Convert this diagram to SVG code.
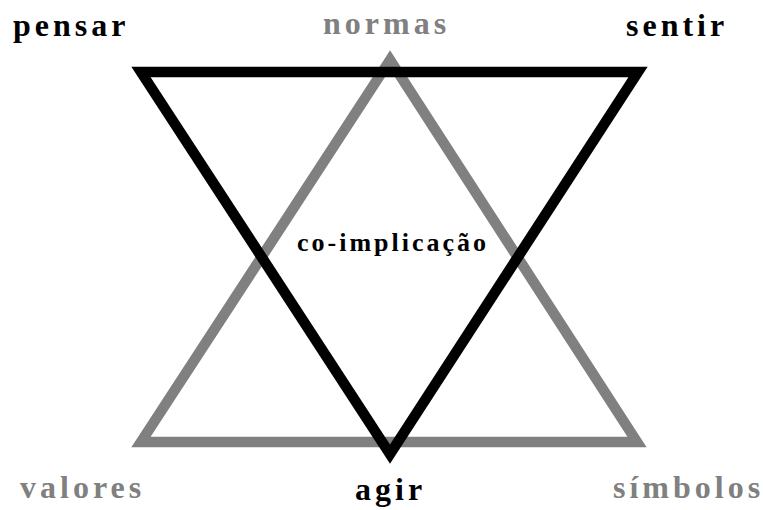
<svg xmlns="http://www.w3.org/2000/svg" width="763" height="510" viewBox="0 0 763 510">
<style>
.t{font-family:"Liberation Serif","Times New Roman",serif;font-weight:bold;font-size:32px;letter-spacing:4px}
.k{fill:#000}
.g{fill:#808080}
.tri{fill:none;stroke-width:10.5;stroke-linejoin:miter;stroke-miterlimit:10}
</style>
<rect width="763" height="510" fill="#fff"/>
<g id="connectors">
<polygon id="gray-triangle" class="tri" stroke="#808080" points="390,60 141,442 637,442"/>
<polygon id="black-triangle" class="tri" stroke="#000" points="141,72 638,72 390,454"/>
</g>
<g id="pensar"><text class="t k" x="13" y="36">pensar</text></g>
<g id="normas"><text class="t g" x="323" y="34">normas</text></g>
<g id="sentir"><text class="t k" x="626" y="36">sentir</text></g>
<g id="valores"><text class="t g" x="20" y="498">valores</text></g>
<g id="agir"><text class="t k" x="355" y="500">agir</text></g>
<g id="simbolos"><text class="t g" x="613" y="498">símbolos</text></g>
<g id="co-implicacao"><text class="t k" x="297" y="251" style="font-size:26px;letter-spacing:3px">co-implicação</text></g>
</svg>
